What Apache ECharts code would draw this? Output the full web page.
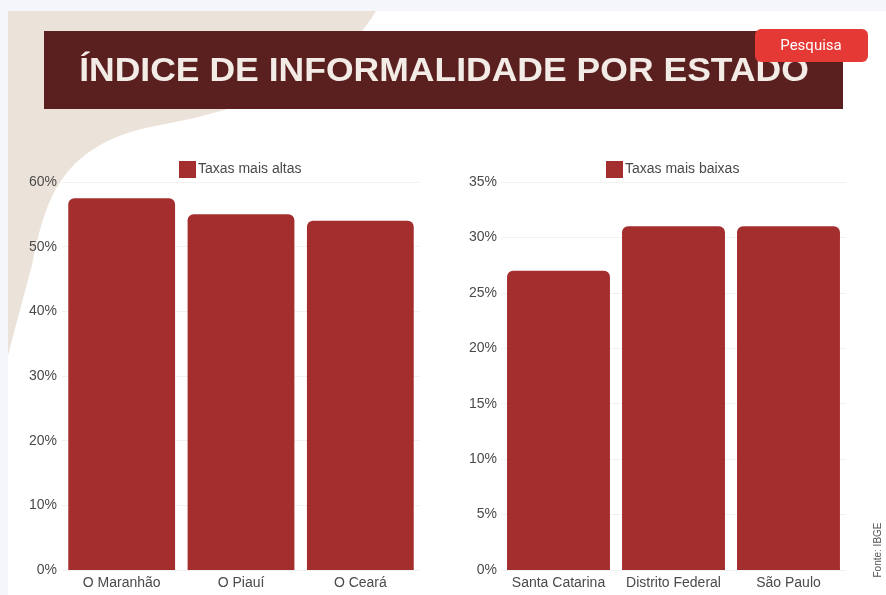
<!DOCTYPE html>
<html><head><meta charset="utf-8">
<script src="https://cdn.jsdelivr.net/npm/echarts@6/dist/echarts.min.js"></script>
<style>html,body{margin:0;padding:0;background:#f4f6f9;}#c{width:886px;height:595px;}</style>
</head><body><div id="c"></div>
<script>
const categoriesHigh = ['O Maranhão', 'O Piauí', 'O Ceará'];
const valuesHigh = [57.5, 55, 54];
const categoriesLow = ['Santa Catarina', 'Distrito Federal', 'São Paulo'];
const valuesLow = [27, 31, 31];
const seriesNames = ['Taxas mais altas', 'Taxas mais baixas'];
const titleText = 'ÍNDICE DE INFORMALIDADE POR ESTADO';
const sourceText = 'Fonte: IBGE';
const buttonText = 'Pesquisa';

// decorative background shape (cubic bezier segments sampled into a polygon)
function cubic(p0, p1, p2, p3, n) {
  const pts = [];
  for (let i = 0; i <= n; i++) {
    const t = i / n, u = 1 - t;
    pts.push([
      u*u*u*p0[0] + 3*u*u*t*p1[0] + 3*u*t*t*p2[0] + t*t*t*p3[0],
      u*u*u*p0[1] + 3*u*u*t*p1[1] + 3*u*t*t*p2[1] + t*t*t*p3[1]
    ]);
  }
  return pts;
}
const shapePts = [[8, 11]]
  .concat(cubic([376, 11], [345, 65], [270, 105], [160, 125], 30))
  .concat(cubic([160, 125], [60, 143], [45, 200], [32, 265], 30))
  .concat([[8, 355]]);

const chart = echarts.init(document.getElementById('c'));
const barColor = '#a42e2e';
const labelStyle = {color: '#4a4a4a', fontSize: 14, fontFamily: 'Liberation Sans, Arial, sans-serif'};
function yAxis(gi, max, interval, margin) {
  return {type: 'value', gridIndex: gi, min: 0, max: max, interval: interval,
    axisLabel: Object.assign({formatter: '{value}%', margin: margin}, labelStyle),
    axisLine: {show: false}, axisTick: {show: false},
    splitLine: {lineStyle: {color: '#f1f1f1', width: 1}}};
}
function xAxis(gi, cats) {
  return {type: 'category', gridIndex: gi, data: cats,
    axisLabel: Object.assign({margin: 6, interval: 0}, labelStyle),
    axisLine: {show: false}, axisTick: {show: false}};
}
chart.setOption({
  backgroundColor: '#f4f6f9',
  animation: false,
  graphic: [
    {type: 'rect', shape: {x: 8, y: 11, width: 878, height: 584}, style: {fill: '#ffffff'}, z: -10},
    {type: 'polygon', shape: {points: shapePts}, style: {fill: '#ebe3da'}, z: -9},
    {type: 'rect', shape: {x: 44, y: 31, width: 799, height: 78}, style: {fill: '#5a2020'}, z: 1},
    {type: 'text', x: 444, y: 72, scaleX: 1.045, style: {text: titleText, fill: '#f3ebe6', fontSize: 34, fontWeight: 'bold', fontFamily: 'Liberation Sans', textAlign: 'center', textVerticalAlign: 'middle'}, z: 2},
    {type: 'rect', shape: {x: 755, y: 29, width: 113, height: 33, r: 6}, style: {fill: '#e53935'}, z: 3},
    {type: 'text', x: 811, y: 46, style: {text: buttonText, fill: '#ffffff', fontSize: 15, fontFamily: 'Roboto', textAlign: 'center', textVerticalAlign: 'middle'}, z: 4},
    {type: 'text', x: 878, y: 550, rotation: Math.PI / 2, style: {text: sourceText, fill: '#555555', fontSize: 10, fontFamily: 'Liberation Sans', textAlign: 'center', textVerticalAlign: 'middle'}, z: 4}
  ],
  legend: [
    {data: [seriesNames[0]], left: 174, top: 156, itemWidth: 17, itemHeight: 17, itemGap: 4, textStyle: Object.assign({padding: [0, 0, 0, -3]}, labelStyle), icon: 'rect'},
    {data: [seriesNames[1]], left: 601, top: 156, itemWidth: 17, itemHeight: 17, itemGap: 4, textStyle: Object.assign({padding: [0, 0, 0, -3]}, labelStyle), icon: 'rect'}
  ],
  grid: [
    {left: 62, right: 466, top: 182, bottom: 25},
    {left: 501, right: 40, top: 182, bottom: 25}
  ],
  xAxis: [xAxis(0, categoriesHigh), xAxis(1, categoriesLow)],
  yAxis: [yAxis(0, 60, 10, 5), yAxis(1, 35, 5, 4)],
  series: [
    {name: seriesNames[0], type: 'bar', xAxisIndex: 0, yAxisIndex: 0, data: valuesHigh, barCategoryGap: '10.5%', itemStyle: {color: barColor, borderRadius: [6, 6, 0, 0]}},
    {name: seriesNames[1], type: 'bar', xAxisIndex: 1, yAxisIndex: 1, data: valuesLow, barCategoryGap: '10.5%', itemStyle: {color: barColor, borderRadius: [6, 6, 0, 0]}}
  ]
});
</script></body></html>
